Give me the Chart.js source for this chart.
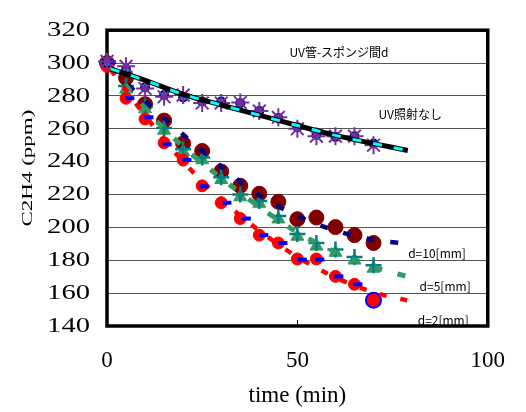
<!DOCTYPE html>
<html><head><meta charset="utf-8">
<script src="https://cdn.jsdelivr.net/npm/chart.js@4/dist/chart.umd.min.js"></script>
<style>html,body{margin:0;padding:0;background:#fff;}canvas{display:block;}</style>
</head><body>
<canvas id="c" width="526" height="412"></canvas>
<script>
// ---- data ----
const times = [0, 5, 10, 15, 20, 25, 30, 35, 40, 45, 50, 55, 60, 65, 70];
const uvNoneStar   = [301, 298, 284.5, 279.5, 280.5, 275.7, 275.7, 276, 270.8, 267, 260, 255.5, 255.5, 255.5, 250];
const uvNoneCircle = [300, 296, 285.3, 280.5, 279, 276.6, 276.6, 275.5, 270.8, 266.5, 261, 256.3, 255, 255.4, 251];
const d10Circle    = [300, 291, 275, 265, 251, 246.5, 234, 225.3, 220.5, 215.6, 205, 206, 200.2, 195.3, 190.5];
const d5Triangle   = [300, 284, 272, 259, 246, 241, 229, 218.5, 214.5, 205, 194.5, 188.5, 184.7, 180, 175];
const d5Cross      = [300.5, 286, 273.5, 260.5, 247.5, 242.5, 230.5, 220, 216, 207, 196, 190.5, 186.5, 182, 177];
const d2Circle     = [298, 278.6, 266, 251.5, 241, 225.3, 215, 205.4, 195.3, 190.5, 180.8, 180.8, 170.2, 165.4, 155.7];
const d2DashTimes  = [1.2, 6, 11, 15.8, 21, 25.5, 31.5, 36.6, 41.2, 46.2, 51.3, 55.9, 60.9, 65.9];
const d2DashValues = [300.5, 278.6, 267, 250.5, 241, 225, 215, 205.4, 195.3, 190.5, 180.4, 180.4, 170.2, 165.4];
const fitTimes     = [1, 10, 20, 30, 40, 50, 60, 70, 79];
const fitUvNone    = [296.5, 289.5, 281, 274.5, 268.3, 262, 256, 251, 246.8];
const fitD10       = [297, 277, 256.5, 237, 219.5, 207, 198, 192.5, 190];
const fitD5        = [298, 272, 249, 230, 212.5, 197, 185, 176, 170];
const fitD2        = [296, 268, 240, 217, 198, 182, 169.5, 160.5, 155.5];
const xTickValues  = [0, 50, 100];
const yTickValues  = [140, 160, 180, 200, 220, 240, 260, 280, 300, 320];
const noteTexts    = ['UV管-スポンジ間d', 'UV照射なし', 'd=10[mm]', 'd=5[mm]', 'd=2[mm]'];
const noteAtTime   = [47.9, 71.3, 79.1, 82.1, 81.6];
const noteAtValue  = [306.3, 268.7, 184, 163.9, 143.5];

const pts = (xs, ys) => xs.map((x, i) => ({x, y: ys[i]}));
const lastBlue = (n, base, last) => Array.from({length: n}, (_, i) => i === n - 1 ? last : base);

const serif = "'Liberation Serif', 'Times New Roman', Times, serif";

const stretchPlugin = {
  id: 'stretch',
  beforeDraw(chart) {
    const s = chart.scales.y;
    if (s.__patched) return;
    s.__patched = true;
    const oL = s.drawLabels.bind(s);
    s.drawLabels = function(area) {
      const ctx = this.ctx, ax = this.right - this.options.ticks.padding;
      ctx.save(); ctx.translate(ax, 0); ctx.scale(1.3, 1); ctx.translate(-ax, 0);
      oL(area); ctx.restore();
    };
    const oT = s.drawTitle.bind(s);
    s.drawTitle = function() {
      const ctx = this.ctx;
      const f = Chart.helpers.toFont(this.options.title.font);
      const cx = this.left + this.options.title.padding.top + f.lineHeight / 2;
      ctx.save(); ctx.translate(cx, 0); ctx.scale(0.65, 1); ctx.translate(-cx, -10);
      oT(); ctx.restore();
    };
  }
};

const framePlugin = {
  id: 'frame',
  beforeDatasetsDraw(chart) {
    const {ctx, chartArea: a, scales: {x, y}} = chart;
    ctx.save();
    ctx.fillStyle = '#000';
    ctx.font = "normal 12px 'Noto Sans CJK JP', sans-serif";
    ctx.textAlign = 'left';
    ctx.textBaseline = 'middle';
    noteTexts.forEach((t, i) => ctx.fillText(t, x.getPixelForValue(noteAtTime[i]), y.getPixelForValue(noteAtValue[i])));
    ctx.strokeStyle = '#000'; ctx.lineWidth = 1;
    xTickValues.forEach(v => {
      const px = Math.round(x.getPixelForValue(v)) + 0.5;
      ctx.beginPath(); ctx.moveTo(px, a.bottom); ctx.lineTo(px, a.bottom - 6); ctx.stroke();
    });
    ctx.lineWidth = 3.5;
    ctx.strokeRect(a.left, a.top, a.right - a.left, a.bottom - a.top);
    ctx.restore();
  }
};

const markers = (label, xs, ys, extra) => Object.assign({
  label, data: pts(xs, ys), showLine: false, clip: false
}, extra);
const fitLine = (label, ys, color, width, dash, order) => ({
  label, data: pts(fitTimes, ys), showLine: true, pointRadius: 0, borderColor: color,
  borderWidth: width, borderDash: dash, tension: 0.3, order, clip: false, fill: false
});

new Chart(document.getElementById('c'), {
  type: 'scatter',
  data: {
    datasets: [
      markers('d=10 circle', times, d10Circle, {pointStyle: 'circle', pointRadius: 7.5, pointBackgroundColor: '#800000', pointBorderColor: '#800000', pointBorderWidth: 1, order: 20}),
      markers('d=5 triangle', times, d5Triangle, {pointStyle: 'triangle', pointRadius: 7.5, pointBackgroundColor: '#339966', pointBorderColor: '#339966', pointBorderWidth: 1, order: 19}),
      markers('d=5 cross', times, d5Cross, {pointStyle: 'cross', pointRadius: 8, pointBorderColor: '#008080', pointBorderWidth: 2.5, order: 18}),
      markers('d=2 circle', times, d2Circle, {pointStyle: 'circle', pointRadius: lastBlue(times.length, 6, 7.5), pointBackgroundColor: '#FF0000', pointBorderColor: lastBlue(times.length, '#FF0000', '#0000FF'), pointBorderWidth: lastBlue(times.length, 1, 2), order: 17}),
      fitLine('d=10 fit', fitD10, '#000080', 4.5, [8, 16], 16),
      fitLine('d=5 fit', fitD5, '#339966', 5, [8, 16], 15),
      fitLine('d=2 fit', fitD2, '#FF0000', 4.5, [7, 14], 14),
      markers('d=2 dash', d2DashTimes, d2DashValues, {pointStyle: 'line', pointRadius: 4.5, pointBorderColor: '#0000FF', pointBorderWidth: 4, order: 13}),
      markers('UV none circle', times, uvNoneCircle, {pointStyle: 'circle', pointRadius: 4, pointBackgroundColor: '#00B0F0', pointBorderColor: '#000080', pointBorderWidth: 2, order: 12}),
      markers('UV none star', times, uvNoneStar, {pointStyle: 'star', pointRadius: 9, pointBorderColor: '#7030A0', pointBorderWidth: 2, order: 11}),
      fitLine('UV none fit', fitUvNone, '#000000', 5, [], 10),
      fitLine('UV none fit 2', fitUvNone, '#00FFFF', 3, [9, 12], 9)
    ]
  },
  options: {
    responsive: false,
    animation: false,
    devicePixelRatio: 1,
    layout: {padding: {top: 17, right: 22, left: 0, bottom: 0}},
    plugins: {legend: {display: false}, tooltip: {enabled: false}},
    scales: {
      x: {
        type: 'linear', min: 0, max: 100,
        afterBuildTicks: s => { s.ticks = xTickValues.map(v => ({value: v})); },
        afterFit: s => { s.height = 86; },
        grid: {display: false, drawTicks: false},
        border: {display: false},
        ticks: {color: '#000', padding: 21, font: {family: serif, size: 23, weight: 'normal'}},
        title: {display: true, text: 'time (min)', color: '#000', font: {family: serif, size: 23, weight: 'normal'}, padding: {top: 0, bottom: 2}}
      },
      y: {
        type: 'linear', min: 140, max: 320,
        afterBuildTicks: s => { s.ticks = yTickValues.map(v => ({value: v})); },
        afterFit: s => { s.width = 107; },
        grid: {color: '#555', lineWidth: 1, drawTicks: false},
        border: {display: false},
        ticks: {color: '#000', padding: 17, font: {family: serif, size: 22, weight: 'normal'}},
        title: {display: true, text: 'C2H4 (ppm)', color: '#000', font: {family: serif, size: 23, weight: 'normal'}, padding: {top: 14, bottom: 0}}
      }
    }
  },
  plugins: [stretchPlugin, framePlugin]
});
</script>
</body></html>
